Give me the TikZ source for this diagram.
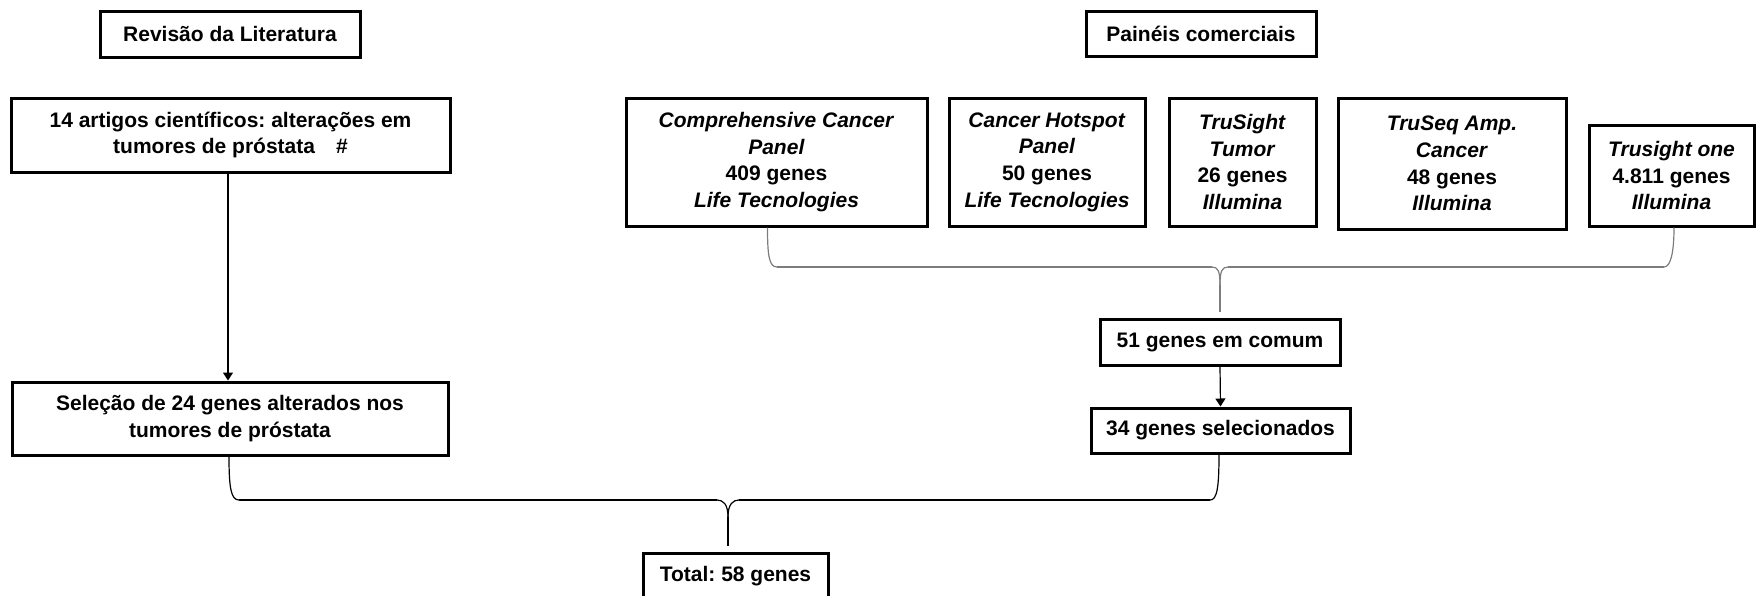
\documentclass[tikz,border=0pt]{standalone}
\usepackage{fontspec}
\setmainfont{Liberation Sans}
\usetikzlibrary{arrows.meta,calc}
\definecolor{bracegray}{RGB}{125,125,125}
\begin{document}
\frenchspacing
\begin{tikzpicture}[x=0.5pt,y=-0.5pt,
  box/.style={draw, line width=1.5pt, align=center, inner sep=0pt,
    font=\fontsize{10.5}{13.3}\selectfont\bfseries\frenchspacing},
  sz/.style 2 args={minimum width=#1*0.5pt, minimum height=#2*0.5pt},
  arr/.style={line width=0.6pt, -{Triangle[length=4pt,width=5pt]}},
  thinline/.style={line width=0.6pt},
  thickline/.style={line width=1.4pt},
]
\useasboundingbox (0,0) rectangle (1757,595);

% headers
\node[box, sz={260}{46}] (rev) at (230,34) {Revisão da Literatura};
\node[box, sz={230}{45}] (pan) at (1201,33.5) {Painéis comerciais};

% left column
\node[box, sz={439}{74}] (art) at (230.5,135)
  {14 artigos científicos: alterações em\\ tumores de próstata\hspace{1em}\#};
\node[box, sz={436}{73}] (sel) at (230,418.5)
  {Seleção de 24 genes alterados nos\\ tumores de próstata};

% panels
\node[box, sz={301}{128}] (cp) at (776.5,162)
  {\textit{Comprehensive Cancer}\\ \textit{Panel}\\ 409 genes\\ \textit{Life Tecnologies}};
\node[box, sz={196}{128}] (hs) at (1047,162)
  {\textit{Cancer Hotspot}\\ \textit{Panel}\\ 50 genes\\ \textit{Life Tecnologies}};
\node[box, sz={147}{128}] (tt) at (1242.5,162)
  {\textit{TruSight}\\ \textit{Tumor}\\ 26 genes\\ \textit{Illumina}};
\node[box, sz={228}{131}] (tq) at (1452,163.5)
  {\textit{TruSeq Amp.}\\ \textit{Cancer}\\ 48 genes\\ \textit{Illumina}};
\node[box, sz={165}{101}] (to) at (1671.5,175.5)
  {\textit{Trusight one}\\ 4.811 genes\\ \textit{Illumina}};

\node[box, sz={240}{46}] (g51) at (1220,342) {51 genes em comum};
\node[box, sz={259}{45}] (g34) at (1220.5,430.5) {34 genes selecionados};
\node[box, sz={185}{46}] (tot) at (735.5,576) {Total: 58 genes};

% arrows
\draw[arr] (art.south -| 228,0) -- (sel.north -| 228,0);
\draw[arr] (g51.south) -- (g34.north);

% top brace (gray)
\coordinate (tstem) at (1220,312);
\begin{scope}[draw=bracegray]
\draw[thinline] ($(cp.south)+(-9,0)$) .. controls (767.5,255) and (769,267) .. (777,267);
\draw[thickline] (777,267) -- (1212,267);
\draw[thinline] (1212,267) .. controls (1218,267) and (1220,271) .. (1220,285);
\draw[thinline] (1228,267) .. controls (1222,267) and (1220,271) .. (1220,285);
\draw[thinline] (1220,285) -- (tstem);
\draw[thickline] (1228,267) -- (1664,267);
\draw[thinline] (1664,267) .. controls (1670,267) and (1674,255) .. (to.south -| 1674,0);
\end{scope}

% bottom brace (black)
\coordinate (bstem) at (728,546);
\draw[thinline] (sel.south -| 229,0) .. controls (229,488) and (231,500) .. (239,500);
\draw[thickline] (239,500) -- (717,500);
\draw[thinline] (717,500) .. controls (723,500) and (728,504) .. (728,517);
\draw[thinline] (739,500) .. controls (733,500) and (728,504) .. (728,517);
\draw[thinline] (728,517) -- (bstem);
\draw[thickline] (739,500) -- (1210,500);
\draw[thinline] (1210,500) .. controls (1217,500) and (1219,488) .. (g34.south -| 1219,0);
\end{tikzpicture}
\end{document}
